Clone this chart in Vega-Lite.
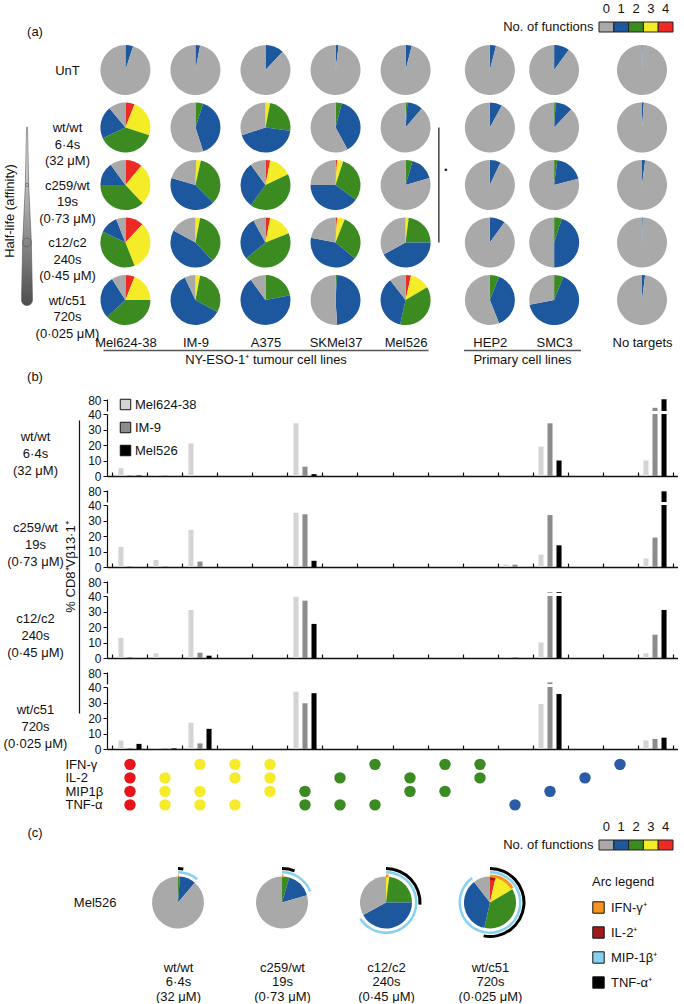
{
  "$schema": "https://vega.github.io/schema/vega-lite/v6.json",
  "padding": {"top": 2, "left": 0, "right": 0, "bottom": 0},
  "background": "white",
  "config": {
    "font": "Liberation Sans",
    "view": {"stroke": null},
    "axis": {"labelColor": "#111", "titleColor": "#111", "domainColor": "#111", "tickColor": "#111", "grid": false, "titleFontWeight": "normal", "labelFontSize": 12, "titleFontSize": 13},
    "legend": {"labelColor": "#111", "titleColor": "#111", "titleFontWeight": "normal"},
    "text": {"color": "#111"}
  },
  "datasets": {
    "legend5": [
      {"n": 0, "lab": "No. of functions"}, {"n": 1, "lab": "No. of functions"}, {"n": 2, "lab": "No. of functions"}, {"n": 3, "lab": "No. of functions"}, {"n": 4, "lab": "No. of functions"}
    ],
    "halflife": [
      {"tcr": "wt/wt", "halflife": 6.4}, {"tcr": "c259/wt", "halflife": 19}, {"tcr": "c12/c2", "halflife": 240}, {"tcr": "wt/c51", "halflife": 720}
    ],
    "bracket": [{"cell": "HEP2", "tcr": "wt/wt", "tcr_end": "c12/c2", "mid": "c259/wt", "sym": "•"}],
    "pies": [
      {"cell": "Mel624-38", "tcr": "UnT", "n": 1, "pct": 5}, {"cell": "Mel624-38", "tcr": "UnT", "n": 0, "pct": 95},
      {"cell": "Mel624-38", "tcr": "wt/wt", "n": 4, "pct": 6}, {"cell": "Mel624-38", "tcr": "wt/wt", "n": 3, "pct": 24}, {"cell": "Mel624-38", "tcr": "wt/wt", "n": 2, "pct": 38}, {"cell": "Mel624-38", "tcr": "wt/wt", "n": 1, "pct": 21}, {"cell": "Mel624-38", "tcr": "wt/wt", "n": 0, "pct": 11},
      {"cell": "Mel624-38", "tcr": "c259/wt", "n": 4, "pct": 11}, {"cell": "Mel624-38", "tcr": "c259/wt", "n": 3, "pct": 27}, {"cell": "Mel624-38", "tcr": "c259/wt", "n": 2, "pct": 37}, {"cell": "Mel624-38", "tcr": "c259/wt", "n": 1, "pct": 15}, {"cell": "Mel624-38", "tcr": "c259/wt", "n": 0, "pct": 10},
      {"cell": "Mel624-38", "tcr": "c12/c2", "n": 4, "pct": 12}, {"cell": "Mel624-38", "tcr": "c12/c2", "n": 3, "pct": 32}, {"cell": "Mel624-38", "tcr": "c12/c2", "n": 2, "pct": 38}, {"cell": "Mel624-38", "tcr": "c12/c2", "n": 1, "pct": 12}, {"cell": "Mel624-38", "tcr": "c12/c2", "n": 0, "pct": 6},
      {"cell": "Mel624-38", "tcr": "wt/c51", "n": 4, "pct": 6}, {"cell": "Mel624-38", "tcr": "wt/c51", "n": 3, "pct": 19}, {"cell": "Mel624-38", "tcr": "wt/c51", "n": 2, "pct": 38}, {"cell": "Mel624-38", "tcr": "wt/c51", "n": 1, "pct": 28}, {"cell": "Mel624-38", "tcr": "wt/c51", "n": 0, "pct": 9},
      {"cell": "IM-9", "tcr": "UnT", "n": 1, "pct": 3}, {"cell": "IM-9", "tcr": "UnT", "n": 0, "pct": 97},
      {"cell": "IM-9", "tcr": "wt/wt", "n": 2, "pct": 5}, {"cell": "IM-9", "tcr": "wt/wt", "n": 1, "pct": 40}, {"cell": "IM-9", "tcr": "wt/wt", "n": 0, "pct": 55},
      {"cell": "IM-9", "tcr": "c259/wt", "n": 4, "pct": 0.5}, {"cell": "IM-9", "tcr": "c259/wt", "n": 3, "pct": 3}, {"cell": "IM-9", "tcr": "c259/wt", "n": 2, "pct": 34}, {"cell": "IM-9", "tcr": "c259/wt", "n": 1, "pct": 42}, {"cell": "IM-9", "tcr": "c259/wt", "n": 0, "pct": 20.5},
      {"cell": "IM-9", "tcr": "c12/c2", "n": 3, "pct": 3}, {"cell": "IM-9", "tcr": "c12/c2", "n": 2, "pct": 35}, {"cell": "IM-9", "tcr": "c12/c2", "n": 1, "pct": 45}, {"cell": "IM-9", "tcr": "c12/c2", "n": 0, "pct": 17},
      {"cell": "IM-9", "tcr": "wt/c51", "n": 3, "pct": 3}, {"cell": "IM-9", "tcr": "wt/c51", "n": 2, "pct": 30}, {"cell": "IM-9", "tcr": "wt/c51", "n": 1, "pct": 60}, {"cell": "IM-9", "tcr": "wt/c51", "n": 0, "pct": 7},
      {"cell": "A375", "tcr": "UnT", "n": 1, "pct": 12}, {"cell": "A375", "tcr": "UnT", "n": 0, "pct": 88},
      {"cell": "A375", "tcr": "wt/wt", "n": 3, "pct": 3}, {"cell": "A375", "tcr": "wt/wt", "n": 2, "pct": 24}, {"cell": "A375", "tcr": "wt/wt", "n": 1, "pct": 43}, {"cell": "A375", "tcr": "wt/wt", "n": 0, "pct": 30},
      {"cell": "A375", "tcr": "c259/wt", "n": 4, "pct": 3}, {"cell": "A375", "tcr": "c259/wt", "n": 3, "pct": 15}, {"cell": "A375", "tcr": "c259/wt", "n": 2, "pct": 42}, {"cell": "A375", "tcr": "c259/wt", "n": 1, "pct": 30}, {"cell": "A375", "tcr": "c259/wt", "n": 0, "pct": 10},
      {"cell": "A375", "tcr": "c12/c2", "n": 4, "pct": 3}, {"cell": "A375", "tcr": "c12/c2", "n": 3, "pct": 16}, {"cell": "A375", "tcr": "c12/c2", "n": 2, "pct": 45}, {"cell": "A375", "tcr": "c12/c2", "n": 1, "pct": 28}, {"cell": "A375", "tcr": "c12/c2", "n": 0, "pct": 8},
      {"cell": "A375", "tcr": "wt/c51", "n": 2, "pct": 22}, {"cell": "A375", "tcr": "wt/c51", "n": 1, "pct": 68}, {"cell": "A375", "tcr": "wt/c51", "n": 0, "pct": 10},
      {"cell": "SKMel37", "tcr": "UnT", "n": 1, "pct": 2}, {"cell": "SKMel37", "tcr": "UnT", "n": 0, "pct": 98},
      {"cell": "SKMel37", "tcr": "wt/wt", "n": 2, "pct": 4}, {"cell": "SKMel37", "tcr": "wt/wt", "n": 1, "pct": 38}, {"cell": "SKMel37", "tcr": "wt/wt", "n": 0, "pct": 58},
      {"cell": "SKMel37", "tcr": "c259/wt", "n": 4, "pct": 1}, {"cell": "SKMel37", "tcr": "c259/wt", "n": 3, "pct": 4}, {"cell": "SKMel37", "tcr": "c259/wt", "n": 2, "pct": 30}, {"cell": "SKMel37", "tcr": "c259/wt", "n": 1, "pct": 40}, {"cell": "SKMel37", "tcr": "c259/wt", "n": 0, "pct": 25},
      {"cell": "SKMel37", "tcr": "c12/c2", "n": 4, "pct": 1}, {"cell": "SKMel37", "tcr": "c12/c2", "n": 3, "pct": 5}, {"cell": "SKMel37", "tcr": "c12/c2", "n": 2, "pct": 30}, {"cell": "SKMel37", "tcr": "c12/c2", "n": 1, "pct": 42}, {"cell": "SKMel37", "tcr": "c12/c2", "n": 0, "pct": 22},
      {"cell": "SKMel37", "tcr": "wt/c51", "n": 2, "pct": 1}, {"cell": "SKMel37", "tcr": "wt/c51", "n": 1, "pct": 48}, {"cell": "SKMel37", "tcr": "wt/c51", "n": 0, "pct": 51},
      {"cell": "Mel526", "tcr": "UnT", "n": 1, "pct": 4}, {"cell": "Mel526", "tcr": "UnT", "n": 0, "pct": 96},
      {"cell": "Mel526", "tcr": "wt/wt", "n": 2, "pct": 1.2}, {"cell": "Mel526", "tcr": "wt/wt", "n": 1, "pct": 10}, {"cell": "Mel526", "tcr": "wt/wt", "n": 0, "pct": 88.8},
      {"cell": "Mel526", "tcr": "c259/wt", "n": 2, "pct": 4.5}, {"cell": "Mel526", "tcr": "c259/wt", "n": 1, "pct": 16}, {"cell": "Mel526", "tcr": "c259/wt", "n": 0, "pct": 79.5},
      {"cell": "Mel526", "tcr": "c12/c2", "n": 3, "pct": 2}, {"cell": "Mel526", "tcr": "c12/c2", "n": 2, "pct": 23}, {"cell": "Mel526", "tcr": "c12/c2", "n": 1, "pct": 42}, {"cell": "Mel526", "tcr": "c12/c2", "n": 0, "pct": 33},
      {"cell": "Mel526", "tcr": "wt/c51", "n": 4, "pct": 3.5}, {"cell": "Mel526", "tcr": "wt/c51", "n": 3, "pct": 13}, {"cell": "Mel526", "tcr": "wt/c51", "n": 2, "pct": 37}, {"cell": "Mel526", "tcr": "wt/c51", "n": 1, "pct": 36}, {"cell": "Mel526", "tcr": "wt/c51", "n": 0, "pct": 10.5},
      {"cell": "HEP2", "tcr": "UnT", "n": 1, "pct": 4}, {"cell": "HEP2", "tcr": "UnT", "n": 0, "pct": 96},
      {"cell": "HEP2", "tcr": "wt/wt", "n": 1, "pct": 8}, {"cell": "HEP2", "tcr": "wt/wt", "n": 0, "pct": 92},
      {"cell": "HEP2", "tcr": "c259/wt", "n": 1, "pct": 7}, {"cell": "HEP2", "tcr": "c259/wt", "n": 0, "pct": 93},
      {"cell": "HEP2", "tcr": "c12/c2", "n": 1, "pct": 10}, {"cell": "HEP2", "tcr": "c12/c2", "n": 0, "pct": 90},
      {"cell": "HEP2", "tcr": "wt/c51", "n": 2, "pct": 6}, {"cell": "HEP2", "tcr": "wt/c51", "n": 1, "pct": 38}, {"cell": "HEP2", "tcr": "wt/c51", "n": 0, "pct": 56},
      {"cell": "SMC3", "tcr": "UnT", "n": 1, "pct": 10}, {"cell": "SMC3", "tcr": "UnT", "n": 0, "pct": 90},
      {"cell": "SMC3", "tcr": "wt/wt", "n": 2, "pct": 1}, {"cell": "SMC3", "tcr": "wt/wt", "n": 1, "pct": 11}, {"cell": "SMC3", "tcr": "wt/wt", "n": 0, "pct": 88},
      {"cell": "SMC3", "tcr": "c259/wt", "n": 2, "pct": 2}, {"cell": "SMC3", "tcr": "c259/wt", "n": 1, "pct": 19}, {"cell": "SMC3", "tcr": "c259/wt", "n": 0, "pct": 79},
      {"cell": "SMC3", "tcr": "c12/c2", "n": 2, "pct": 5}, {"cell": "SMC3", "tcr": "c12/c2", "n": 1, "pct": 45}, {"cell": "SMC3", "tcr": "c12/c2", "n": 0, "pct": 50},
      {"cell": "SMC3", "tcr": "wt/c51", "n": 2, "pct": 6}, {"cell": "SMC3", "tcr": "wt/c51", "n": 1, "pct": 66}, {"cell": "SMC3", "tcr": "wt/c51", "n": 0, "pct": 28},
      {"cell": "No targets", "tcr": "UnT", "n": 1, "pct": 0.4}, {"cell": "No targets", "tcr": "UnT", "n": 0, "pct": 99.6},
      {"cell": "No targets", "tcr": "wt/wt", "n": 1, "pct": 1.2}, {"cell": "No targets", "tcr": "wt/wt", "n": 0, "pct": 98.8},
      {"cell": "No targets", "tcr": "c259/wt", "n": 1, "pct": 2}, {"cell": "No targets", "tcr": "c259/wt", "n": 0, "pct": 98},
      {"cell": "No targets", "tcr": "c12/c2", "n": 1, "pct": 0.5}, {"cell": "No targets", "tcr": "c12/c2", "n": 0, "pct": 99.5},
      {"cell": "No targets", "tcr": "wt/c51", "n": 1, "pct": 2}, {"cell": "No targets", "tcr": "wt/c51", "n": 0, "pct": 98}
    ],
    "bars": [
      {"tcr": "wt/wt", "combo": "++++", "line": "Mel624-38", "v": 5}, {"tcr": "wt/wt", "combo": "++++", "line": "IM-9", "v": 0.4}, {"tcr": "wt/wt", "combo": "++++", "line": "Mel526", "v": 0.3},
      {"tcr": "wt/wt", "combo": "-+++", "line": "Mel624-38", "v": 0.4}, {"tcr": "wt/wt", "combo": "-+++", "line": "IM-9", "v": 0.3},
      {"tcr": "wt/wt", "combo": "+-++", "line": "Mel624-38", "v": 21},
      {"tcr": "wt/wt", "combo": "--++", "line": "Mel624-38", "v": 34}, {"tcr": "wt/wt", "combo": "--++", "line": "IM-9", "v": 6}, {"tcr": "wt/wt", "combo": "--++", "line": "Mel526", "v": 1.2},
      {"tcr": "wt/wt", "combo": "---+", "line": "Mel624-38", "v": 0.3},
      {"tcr": "wt/wt", "combo": "--+-", "line": "Mel624-38", "v": 19}, {"tcr": "wt/wt", "combo": "--+-", "line": "IM-9", "v": 34}, {"tcr": "wt/wt", "combo": "--+-", "line": "Mel526", "v": 10},
      {"tcr": "wt/wt", "combo": "----", "line": "Mel624-38", "v": 10}, {"tcr": "wt/wt", "combo": "----", "line": "IM-9", "v": 52}, {"tcr": "wt/wt", "combo": "----", "line": "Mel526", "v": 84},
      {"tcr": "c259/wt", "combo": "++++", "line": "Mel624-38", "v": 13}, {"tcr": "c259/wt", "combo": "++++", "line": "IM-9", "v": 0.4},
      {"tcr": "c259/wt", "combo": "-+++", "line": "Mel624-38", "v": 4.5}, {"tcr": "c259/wt", "combo": "-+++", "line": "IM-9", "v": 0.4},
      {"tcr": "c259/wt", "combo": "+-++", "line": "Mel624-38", "v": 24}, {"tcr": "c259/wt", "combo": "+-++", "line": "IM-9", "v": 3.5},
      {"tcr": "c259/wt", "combo": "--++", "line": "Mel624-38", "v": 35}, {"tcr": "c259/wt", "combo": "--++", "line": "IM-9", "v": 34}, {"tcr": "c259/wt", "combo": "--++", "line": "Mel526", "v": 4},
      {"tcr": "c259/wt", "combo": "---+", "line": "Mel624-38", "v": 1.5}, {"tcr": "c259/wt", "combo": "---+", "line": "IM-9", "v": 1.5},
      {"tcr": "c259/wt", "combo": "--+-", "line": "Mel624-38", "v": 8}, {"tcr": "c259/wt", "combo": "--+-", "line": "IM-9", "v": 33.5}, {"tcr": "c259/wt", "combo": "--+-", "line": "Mel526", "v": 14},
      {"tcr": "c259/wt", "combo": "----", "line": "Mel624-38", "v": 5.5}, {"tcr": "c259/wt", "combo": "----", "line": "IM-9", "v": 19}, {"tcr": "c259/wt", "combo": "----", "line": "Mel526", "v": 80},
      {"tcr": "c12/c2", "combo": "++++", "line": "Mel624-38", "v": 13}, {"tcr": "c12/c2", "combo": "++++", "line": "IM-9", "v": 0.5},
      {"tcr": "c12/c2", "combo": "-+++", "line": "Mel624-38", "v": 3},
      {"tcr": "c12/c2", "combo": "+-++", "line": "Mel624-38", "v": 31}, {"tcr": "c12/c2", "combo": "+-++", "line": "IM-9", "v": 3.4}, {"tcr": "c12/c2", "combo": "+-++", "line": "Mel526", "v": 1.5},
      {"tcr": "c12/c2", "combo": "--++", "line": "Mel624-38", "v": 39.5}, {"tcr": "c12/c2", "combo": "--++", "line": "IM-9", "v": 37}, {"tcr": "c12/c2", "combo": "--++", "line": "Mel526", "v": 22},
      {"tcr": "c12/c2", "combo": "---+", "line": "Mel624-38", "v": 0.5}, {"tcr": "c12/c2", "combo": "---+", "line": "IM-9", "v": 0.5},
      {"tcr": "c12/c2", "combo": "--+-", "line": "Mel624-38", "v": 10}, {"tcr": "c12/c2", "combo": "--+-", "line": "IM-9", "v": 43}, {"tcr": "c12/c2", "combo": "--+-", "line": "Mel526", "v": 43},
      {"tcr": "c12/c2", "combo": "----", "line": "Mel624-38", "v": 3}, {"tcr": "c12/c2", "combo": "----", "line": "IM-9", "v": 15}, {"tcr": "c12/c2", "combo": "----", "line": "Mel526", "v": 31},
      {"tcr": "wt/c51", "combo": "++++", "line": "Mel624-38", "v": 5.5}, {"tcr": "wt/c51", "combo": "++++", "line": "IM-9", "v": 0.5}, {"tcr": "wt/c51", "combo": "++++", "line": "Mel526", "v": 3.3},
      {"tcr": "wt/c51", "combo": "-+++", "line": "Mel624-38", "v": 0.3}, {"tcr": "wt/c51", "combo": "-+++", "line": "IM-9", "v": 0.3}, {"tcr": "wt/c51", "combo": "-+++", "line": "Mel526", "v": 0.4},
      {"tcr": "wt/c51", "combo": "+-++", "line": "Mel624-38", "v": 17}, {"tcr": "wt/c51", "combo": "+-++", "line": "IM-9", "v": 3.6}, {"tcr": "wt/c51", "combo": "+-++", "line": "Mel526", "v": 13},
      {"tcr": "wt/c51", "combo": "--++", "line": "Mel624-38", "v": 37}, {"tcr": "wt/c51", "combo": "--++", "line": "IM-9", "v": 29.5}, {"tcr": "wt/c51", "combo": "--++", "line": "Mel526", "v": 36},
      {"tcr": "wt/c51", "combo": "--+-", "line": "Mel624-38", "v": 29}, {"tcr": "wt/c51", "combo": "--+-", "line": "IM-9", "v": 46}, {"tcr": "wt/c51", "combo": "--+-", "line": "Mel526", "v": 35.5},
      {"tcr": "wt/c51", "combo": "----", "line": "Mel624-38", "v": 5.5}, {"tcr": "wt/c51", "combo": "----", "line": "IM-9", "v": 6.5}, {"tcr": "wt/c51", "combo": "----", "line": "Mel526", "v": 7.3}
    ],
    "dots": [
      {"combo": "++++", "cyto": "IFN-γ", "n": 4}, {"combo": "++++", "cyto": "IL-2", "n": 4}, {"combo": "++++", "cyto": "MIP1β", "n": 4}, {"combo": "++++", "cyto": "TNF-α", "n": 4},
      {"combo": "-+++", "cyto": "IL-2", "n": 3}, {"combo": "-+++", "cyto": "MIP1β", "n": 3}, {"combo": "-+++", "cyto": "TNF-α", "n": 3},
      {"combo": "+-++", "cyto": "IFN-γ", "n": 3}, {"combo": "+-++", "cyto": "MIP1β", "n": 3}, {"combo": "+-++", "cyto": "TNF-α", "n": 3},
      {"combo": "++-+", "cyto": "IFN-γ", "n": 3}, {"combo": "++-+", "cyto": "IL-2", "n": 3}, {"combo": "++-+", "cyto": "TNF-α", "n": 3},
      {"combo": "+++-", "cyto": "IFN-γ", "n": 3}, {"combo": "+++-", "cyto": "IL-2", "n": 3}, {"combo": "+++-", "cyto": "MIP1β", "n": 3},
      {"combo": "--++", "cyto": "MIP1β", "n": 2}, {"combo": "--++", "cyto": "TNF-α", "n": 2},
      {"combo": "-+-+", "cyto": "IL-2", "n": 2}, {"combo": "-+-+", "cyto": "TNF-α", "n": 2},
      {"combo": "+--+", "cyto": "IFN-γ", "n": 2}, {"combo": "+--+", "cyto": "TNF-α", "n": 2},
      {"combo": "-++-", "cyto": "IL-2", "n": 2}, {"combo": "-++-", "cyto": "MIP1β", "n": 2},
      {"combo": "+-+-", "cyto": "IFN-γ", "n": 2}, {"combo": "+-+-", "cyto": "MIP1β", "n": 2},
      {"combo": "++--", "cyto": "IFN-γ", "n": 2}, {"combo": "++--", "cyto": "IL-2", "n": 2},
      {"combo": "---+", "cyto": "TNF-α", "n": 1}, {"combo": "--+-", "cyto": "MIP1β", "n": 1}, {"combo": "-+--", "cyto": "IL-2", "n": 1}, {"combo": "+---", "cyto": "IFN-γ", "n": 1}
    ],
    "arcs": [
      {"tcr": "wt/wt", "cell": "Mel526", "cyto": "MIP-1β⁺", "frac": 0.11}, {"tcr": "wt/wt", "cell": "Mel526", "cyto": "TNF-α⁺", "frac": 0.025}, {"tcr": "wt/wt", "cell": "Mel526", "cyto": "IFN-γ⁺", "frac": 0.005},
      {"tcr": "c259/wt", "cell": "Mel526", "cyto": "MIP-1β⁺", "frac": 0.19}, {"tcr": "c259/wt", "cell": "Mel526", "cyto": "TNF-α⁺", "frac": 0.06}, {"tcr": "c259/wt", "cell": "Mel526", "cyto": "IFN-γ⁺", "frac": 0.008},
      {"tcr": "c12/c2", "cell": "Mel526", "cyto": "MIP-1β⁺", "frac": 0.66}, {"tcr": "c12/c2", "cell": "Mel526", "cyto": "TNF-α⁺", "frac": 0.26}, {"tcr": "c12/c2", "cell": "Mel526", "cyto": "IFN-γ⁺", "frac": 0.015},
      {"tcr": "wt/c51", "cell": "Mel526", "cyto": "MIP-1β⁺", "frac": 0.9}, {"tcr": "wt/c51", "cell": "Mel526", "cyto": "TNF-α⁺", "frac": 0.53}, {"tcr": "wt/c51", "cell": "Mel526", "cyto": "IFN-γ⁺", "frac": 0.16}, {"tcr": "wt/c51", "cell": "Mel526", "cyto": "IL-2⁺", "frac": 0.036}
    ]
  },
  "spacing": 19.25,
  "bounds": "flush",
  "resolve": {"scale": {"color": "independent", "fill": "independent"}, "legend": {"color": "independent", "fill": "independent"}},
  "vconcat": [
    {
      "spacing": 529, "bounds": "flush",
      "resolve": {"scale": {"color": "independent", "fill": "independent"}, "legend": {"color": "independent", "fill": "independent"}},
      "hconcat": [
        {"width": 70, "height": 10, "data": {"values": [{"t": "(a)"}]}, "mark": {"type": "text", "fontSize": 13, "yOffset": 5}, "encoding": {"text": {"field": "t", "type": "nominal"}}},
        {"width": 74, "height": 10, "data": {"name": "legend5"},
         "mark": {"type": "rect", "stroke": "#222", "strokeWidth": 1},
         "encoding": {
           "x": {"field": "n", "type": "ordinal", "scale": {"type": "band", "paddingInner": 0, "paddingOuter": 0}, "axis": {"orient": "top", "title": null, "domain": false, "ticks": false, "tickSize": 0, "labelAngle": 0, "labelPadding": 7, "labelFontSize": 13}},
           "y": {"field": "lab", "type": "nominal", "scale": {"type": "band", "paddingInner": 0, "paddingOuter": 0}, "axis": {"title": null, "domain": false, "ticks": false, "tickSize": 0, "labelPadding": 6, "labelFontSize": 13}},
           "fill": {"field": "n", "type": "ordinal", "scale": {"domain": [0, 1, 2, 3, 4], "range": ["#a9a9a9", "#1d589f", "#3b8b21", "#f4ec26", "#ed2a23"]}, "legend": null}
         }}
      ]
    },
    {
      "spacing": 330.75, "bounds": "flush",
      "resolve": {"scale": {"color": "independent", "fill": "independent"}, "legend": {"color": "independent", "fill": "independent"}},
      "vconcat": [
        {
          "spacing": 69, "bounds": "flush",
          "resolve": {"scale": {"color": "independent", "fill": "independent"}, "legend": {"color": "independent", "fill": "independent"}},
          "hconcat": [
            {
              "width": 34, "height": 287.5,
              "layer": [
                {"data": {"name": "halflife"},
                 "mark": {"type": "trail", "filled": true, "fill": {"gradient": "linear", "x1": 0, "y1": 0, "x2": 0, "y2": 1, "stops": [{"offset": 0, "color": "#f2f2f2"}, {"offset": 1, "color": "#4d4d4d"}]}, "stroke": "#555", "strokeWidth": 0.6, "xOffset": 10},
                 "encoding": {
                   "x": {"datum": 0, "type": "quantitative", "scale": {"domain": [-1, 1]}, "axis": null},
                   "y": {"field": "tcr", "type": "nominal", "scale": {"type": "point", "domain": ["UnT", "wt/wt", "c259/wt", "c12/c2", "wt/c51"], "padding": 0.5}, "axis": null},
                   "size": {"field": "halflife", "type": "quantitative", "scale": {"type": "log", "domain": [6.4, 720], "range": [1, 11]}, "legend": null},
                   "order": {"field": "halflife", "type": "quantitative"}
                 }},
                {"data": {"values": [{"t": "Half-life (affinity)"}]},
                 "mark": {"type": "text", "angle": 270, "fontSize": 13, "xOffset": -7, "yOffset": 26},
                 "encoding": {"x": {"datum": 0, "type": "quantitative"}, "text": {"field": "t", "type": "nominal"}}}
              ]
            },
            {
              "spacing": 35.5, "bounds": "flush",
              "resolve": {"scale": {"color": "independent", "fill": "independent"}, "legend": {"color": "independent", "fill": "independent"}},
              "hconcat": [
                {
                  "width": 325, "height": 287.5,
                  "data": {"name": "pies"},
                  "transform": [
                    {"filter": {"field": "cell", "oneOf": ["Mel624-38", "IM-9", "A375", "SKMel37", "Mel526"]}},
                    {"stack": "pct", "groupby": ["cell", "tcr"], "sort": [{"field": "n", "order": "descending"}], "offset": "normalize", "as": ["t0", "t1"]}
                  ],
                  "mark": {"type": "arc", "radius": 25},
                  "encoding": {
                    "x": {"field": "cell", "type": "nominal", "scale": {"type": "point", "domain": ["Mel624-38", "IM-9", "A375", "SKMel37", "Mel526"], "padding": 0.32},
                          "axis": {"orient": "bottom", "offset": 21.25, "title": "NY-ESO-1⁺ tumour cell lines", "titlePadding": 3, "titleFontSize": 13, "labelFontSize": 13, "labelAngle": 0, "labelBaseline": "middle", "labelPadding": -8, "labelOverlap": false, "ticks": false, "tickSize": 0, "domainColor": "#555", "domainWidth": 1.5}},
                    "y": {"field": "tcr", "type": "nominal", "scale": {"type": "point", "domain": ["UnT", "wt/wt", "c259/wt", "c12/c2", "wt/c51"], "padding": 0.5},
                          "axis": {"title": null, "domain": false, "ticks": false, "tickSize": 0, "labelAlign": "center", "labelBaseline": "middle", "labelPadding": 36, "labelFontSize": 13, "labelLineHeight": 16.5, "labelOverlap": false,
                                   "labelExpr": "datum.value == 'wt/wt' ? ['wt/wt', '6·4s', '(32 μM)'] : datum.value == 'c259/wt' ? ['c259/wt', '19s', '(0·73 μM)'] : datum.value == 'c12/c2' ? ['c12/c2', '240s', '(0·45 μM)'] : datum.value == 'wt/c51' ? ['wt/c51', '720s', '(0·025 μM)'] : datum.value"}},
                    "theta": {"field": "t0", "type": "quantitative", "scale": {"domain": [0, 1], "range": [0, 6.283185307]}},
                    "theta2": {"field": "t1"},
                    "fill": {"field": "n", "type": "ordinal", "scale": {"domain": [0, 1, 2, 3, 4], "range": ["#a9a9a9", "#1d589f", "#3b8b21", "#f4ec26", "#ed2a23"]}, "legend": null}
                  }
                },
                {
                  "spacing": 31.5, "bounds": "flush",
                  "resolve": {"scale": {"color": "independent", "fill": "independent"}, "legend": {"color": "independent", "fill": "independent"}},
                  "hconcat": [
                    {
                      "width": 117, "height": 287.5,
                      "layer": [
                        {
                          "data": {"name": "pies"},
                          "transform": [
                            {"filter": {"field": "cell", "oneOf": ["HEP2", "SMC3"]}},
                            {"stack": "pct", "groupby": ["cell", "tcr"], "sort": [{"field": "n", "order": "descending"}], "offset": "normalize", "as": ["t0", "t1"]}
                          ],
                          "mark": {"type": "arc", "radius": 25},
                          "encoding": {
                            "x": {"field": "cell", "type": "nominal", "scale": {"type": "point", "domain": ["HEP2", "SMC3"], "padding": 0.41},
                                  "axis": {"orient": "bottom", "offset": 21.25, "title": "Primary cell lines", "titlePadding": 3, "titleFontSize": 13, "labelFontSize": 13, "labelAngle": 0, "labelBaseline": "middle", "labelPadding": -8, "labelOverlap": false, "ticks": false, "tickSize": 0, "domainColor": "#555", "domainWidth": 1.5}},
                            "y": {"field": "tcr", "type": "nominal", "scale": {"type": "point", "domain": ["UnT", "wt/wt", "c259/wt", "c12/c2", "wt/c51"], "padding": 0.5}, "axis": null},
                            "theta": {"field": "t0", "type": "quantitative", "scale": {"domain": [0, 1], "range": [0, 6.283185307]}},
                            "theta2": {"field": "t1"},
                            "fill": {"field": "n", "type": "ordinal", "scale": {"domain": [0, 1, 2, 3, 4], "range": ["#a9a9a9", "#1d589f", "#3b8b21", "#f4ec26", "#ed2a23"]}, "legend": null}
                          }
                        },
                        {
                          "data": {"name": "bracket"},
                          "mark": {"type": "rule", "color": "#444", "strokeWidth": 1.5, "xOffset": -51},
                          "encoding": {
                            "x": {"field": "cell", "type": "nominal"},
                            "y": {"field": "tcr", "type": "nominal", "axis": null},
                            "y2": {"field": "tcr_end"}
                          }
                        },
                        {
                          "data": {"name": "bracket"},
                          "mark": {"type": "text", "fontSize": 9, "xOffset": -44, "yOffset": -15},
                          "encoding": {
                            "x": {"field": "cell", "type": "nominal"},
                            "y": {"field": "mid", "type": "nominal", "axis": null},
                            "text": {"field": "sym", "type": "nominal"}
                          }
                        }
                      ]
                    },
                    {
                      "width": 60, "height": 287.5,
                      "data": {"name": "pies"},
                      "transform": [
                        {"filter": {"field": "cell", "equal": "No targets"}},
                        {"stack": "pct", "groupby": ["cell", "tcr"], "sort": [{"field": "n", "order": "descending"}], "offset": "normalize", "as": ["t0", "t1"]}
                      ],
                      "mark": {"type": "arc", "radius": 25},
                      "encoding": {
                        "x": {"field": "cell", "type": "nominal", "scale": {"type": "point", "domain": ["No targets"], "padding": 0.5},
                              "axis": {"orient": "bottom", "offset": 21.25, "title": null, "labelFontSize": 13, "labelAngle": 0, "labelBaseline": "middle", "labelPadding": -8, "labelOverlap": false, "ticks": false, "tickSize": 0, "domain": false}},
                        "y": {"field": "tcr", "type": "nominal", "scale": {"type": "point", "domain": ["UnT", "wt/wt", "c259/wt", "c12/c2", "wt/c51"], "padding": 0.5}, "axis": null},
                        "theta": {"field": "t0", "type": "quantitative", "scale": {"domain": [0, 1], "range": [0, 6.283185307]}},
                        "theta2": {"field": "t1"},
                        "fill": {"field": "n", "type": "ordinal", "scale": {"domain": [0, 1, 2, 3, 4], "range": ["#a9a9a9", "#1d589f", "#3b8b21", "#f4ec26", "#ed2a23"]}, "legend": null}
                      }
                    }
                  ]
                }
              ]
            }
          ]
        },
        {
          "spacing": 17, "bounds": "flush",
          "resolve": {"scale": {"color": "independent", "fill": "independent"}, "legend": {"color": "independent", "fill": "independent"}},
          "vconcat": [
            {"width": 70, "height": 10, "data": {"values": [{"t": "(b)"}]}, "mark": {"type": "text", "fontSize": 13}, "encoding": {"text": {"field": "t", "type": "nominal"}}},
            {
              "spacing": 441, "bounds": "flush",
              "resolve": {"scale": {"color": "independent", "fill": "independent"}, "legend": {"color": "independent", "fill": "independent"}},
              "vconcat": [
                {
                  "spacing": 107, "bounds": "flush",
                  "resolve": {"scale": {"color": "independent", "fill": "independent"}, "legend": {"color": "independent", "fill": "independent"}},
                  "hconcat": [
                    {
                      "spacing": 0, "bounds": "flush",
                      "vconcat": [
                        {"width": 79, "height": 21, "data": {"values": [{"t": " "}]}, "mark": {"type": "text"}, "encoding": {"text": {"field": "t", "type": "nominal"}}},
                        {"width": 79, "height": 293, "data": {"values": [{"z": 0}]}, "mark": {"type": "point", "opacity": 0},
                         "encoding": {"y": {"field": "z", "type": "quantitative", "scale": {"domain": [0, 1]}, "axis": {"orient": "left", "offset": -79, "title": "% CD8⁺Vβ13·1⁺", "labels": false, "ticks": false, "tickSize": 0, "domain": true, "domainWidth": 1.2, "titlePadding": 2, "titleFontSize": 13}}}}
                      ]
                    },
                    {
                      "spacing": 91, "bounds": "flush",
                      "resolve": {"scale": {"color": "independent", "fill": "independent"}, "legend": {"color": "independent", "fill": "independent"}},
                      "vconcat": [
                        {
                          "spacing": 3, "bounds": "flush",
                          "resolve": {"scale": {"color": "independent", "fill": "independent"}, "legend": {"color": "independent", "fill": "independent"}},
                          "vconcat": [
                            {
                              "width": 571, "height": 12, "data": {"name": "bars"},
                              "transform": [{"filter": "datum.tcr == 'wt/wt' && datum.v > 40"}],
                              "mark": {"type": "bar", "clip": true},
                              "encoding": {
                                "x": {"field": "combo", "type": "nominal", "scale": {"type": "band", "domain": ["++++", "-+++", "+-++", "++-+", "+++-", "--++", "-+-+", "+--+", "-++-", "+-+-", "++--", "---+", "--+-", "-+--", "+---", "----"], "paddingInner": 0, "paddingOuter": 0.157}, "axis": null},
                                "xOffset": {"field": "line", "type": "nominal", "scale": {"domain": ["Mel624-38", "IM-9", "Mel526"], "paddingInner": 0.44, "paddingOuter": 0.66}},
                                "y": {"field": "v", "type": "quantitative", "scale": {"domain": [40, 85], "nice": false, "zero": false}, "axis": {"values": [80], "title": null, "tickSize": 4, "labelPadding": 2, "labelFontSize": 12, "domainWidth": 1.2}},
                                "color": {"field": "line", "type": "nominal", "scale": {"domain": ["Mel624-38", "IM-9", "Mel526"], "range": ["#d4d4d4", "#8c8c8c", "#000000"]},
                                          "legend": {"orient": "none", "legendX": 12, "legendY": -1, "title": null, "padding": 0, "symbolType": "square", "symbolSize": 110, "symbolStrokeColor": "#111", "symbolStrokeWidth": 1, "labelFontSize": 13, "rowPadding": 8, "labelOffset": 3}}
                              }
                            },
                            {
                              "width": 571, "height": 62, "data": {"name": "bars"},
                              "transform": [{"filter": {"field": "tcr", "equal": "wt/wt"}}],
                              "mark": {"type": "bar", "clip": true},
                              "encoding": {
                                "x": {"field": "combo", "type": "nominal", "scale": {"type": "band", "domain": ["++++", "-+++", "+-++", "++-+", "+++-", "--++", "-+-+", "+--+", "-++-", "+-+-", "++--", "---+", "--+-", "-+--", "+---", "----"], "paddingInner": 0, "paddingOuter": 0.157}, "axis": {"title": null, "labels": false, "domainWidth": 1.5, "tickBand": "extent", "tickSize": -4, "tickWidth": 1.2}},
                                "xOffset": {"field": "line", "type": "nominal", "scale": {"domain": ["Mel624-38", "IM-9", "Mel526"], "paddingInner": 0.44, "paddingOuter": 0.66}},
                                "y": {"field": "v", "type": "quantitative", "scale": {"domain": [0, 40], "nice": false}, "axis": {"values": [0, 10, 20, 30, 40], "tickSize": 4, "labelPadding": 2, "labelFontSize": 12, "domainWidth": 1.2, "title": ["wt/wt", "6·4s", "(32 μM)"], "titleAngle": 0, "titleAlign": "center", "titleBaseline": "middle", "titleX": -72, "titleY": 22, "titleFontSize": 13, "titleLineHeight": 17}},
                                "color": {"field": "line", "type": "nominal", "scale": {"domain": ["Mel624-38", "IM-9", "Mel526"], "range": ["#d4d4d4", "#8c8c8c", "#000000"]}, "legend": null}
                              }
                            }
                          ]
                        },
                        {
                          "spacing": 91, "bounds": "flush",
                          "resolve": {"scale": {"color": "independent", "fill": "independent"}, "legend": {"color": "independent", "fill": "independent"}},
                          "vconcat": [
                            {
                              "spacing": 3, "bounds": "flush",
                              "resolve": {"scale": {"color": "independent", "fill": "independent"}, "legend": {"color": "independent", "fill": "independent"}},
                              "vconcat": [
                                {
                                  "width": 571, "height": 12, "data": {"name": "bars"},
                                  "transform": [{"filter": "datum.tcr == 'c259/wt' && datum.v > 40"}],
                                  "mark": {"type": "bar", "clip": true},
                                  "encoding": {
                                    "x": {"field": "combo", "type": "nominal", "scale": {"type": "band", "domain": ["++++", "-+++", "+-++", "++-+", "+++-", "--++", "-+-+", "+--+", "-++-", "+-+-", "++--", "---+", "--+-", "-+--", "+---", "----"], "paddingInner": 0, "paddingOuter": 0.157}, "axis": null},
                                    "xOffset": {"field": "line", "type": "nominal", "scale": {"domain": ["Mel624-38", "IM-9", "Mel526"], "paddingInner": 0.44, "paddingOuter": 0.66}},
                                    "y": {"field": "v", "type": "quantitative", "scale": {"domain": [40, 85], "nice": false, "zero": false}, "axis": {"values": [80], "title": null, "tickSize": 4, "labelPadding": 2, "labelFontSize": 12, "domainWidth": 1.2}},
                                    "color": {"field": "line", "type": "nominal", "scale": {"domain": ["Mel624-38", "IM-9", "Mel526"], "range": ["#d4d4d4", "#8c8c8c", "#000000"]}, "legend": null}
                                  }
                                },
                                {
                                  "width": 571, "height": 62, "data": {"name": "bars"},
                                  "transform": [{"filter": {"field": "tcr", "equal": "c259/wt"}}],
                                  "mark": {"type": "bar", "clip": true},
                                  "encoding": {
                                    "x": {"field": "combo", "type": "nominal", "scale": {"type": "band", "domain": ["++++", "-+++", "+-++", "++-+", "+++-", "--++", "-+-+", "+--+", "-++-", "+-+-", "++--", "---+", "--+-", "-+--", "+---", "----"], "paddingInner": 0, "paddingOuter": 0.157}, "axis": {"title": null, "labels": false, "domainWidth": 1.5, "tickBand": "extent", "tickSize": -4, "tickWidth": 1.2}},
                                    "xOffset": {"field": "line", "type": "nominal", "scale": {"domain": ["Mel624-38", "IM-9", "Mel526"], "paddingInner": 0.44, "paddingOuter": 0.66}},
                                    "y": {"field": "v", "type": "quantitative", "scale": {"domain": [0, 40], "nice": false}, "axis": {"values": [0, 10, 20, 30, 40], "tickSize": 4, "labelPadding": 2, "labelFontSize": 12, "domainWidth": 1.2, "title": ["c259/wt", "19s", "(0·73 μM)"], "titleAngle": 0, "titleAlign": "center", "titleBaseline": "middle", "titleX": -72, "titleY": 22, "titleFontSize": 13, "titleLineHeight": 17}},
                                    "color": {"field": "line", "type": "nominal", "scale": {"domain": ["Mel624-38", "IM-9", "Mel526"], "range": ["#d4d4d4", "#8c8c8c", "#000000"]}, "legend": null}
                                  }
                                }
                              ]
                            },
                            {
                              "spacing": 91, "bounds": "flush",
                              "resolve": {"scale": {"color": "independent", "fill": "independent"}, "legend": {"color": "independent", "fill": "independent"}},
                              "vconcat": [
                                {
                                  "spacing": 3, "bounds": "flush",
                                  "resolve": {"scale": {"color": "independent", "fill": "independent"}, "legend": {"color": "independent", "fill": "independent"}},
                                  "vconcat": [
                                    {
                                      "width": 571, "height": 12, "data": {"name": "bars"},
                                      "transform": [{"filter": "datum.tcr == 'c12/c2' && datum.v > 40"}],
                                      "mark": {"type": "bar", "clip": true},
                                      "encoding": {
                                        "x": {"field": "combo", "type": "nominal", "scale": {"type": "band", "domain": ["++++", "-+++", "+-++", "++-+", "+++-", "--++", "-+-+", "+--+", "-++-", "+-+-", "++--", "---+", "--+-", "-+--", "+---", "----"], "paddingInner": 0, "paddingOuter": 0.157}, "axis": null},
                                        "xOffset": {"field": "line", "type": "nominal", "scale": {"domain": ["Mel624-38", "IM-9", "Mel526"], "paddingInner": 0.44, "paddingOuter": 0.66}},
                                        "y": {"field": "v", "type": "quantitative", "scale": {"domain": [40, 85], "nice": false, "zero": false}, "axis": {"values": [80], "title": null, "tickSize": 4, "labelPadding": 2, "labelFontSize": 12, "domainWidth": 1.2}},
                                        "color": {"field": "line", "type": "nominal", "scale": {"domain": ["Mel624-38", "IM-9", "Mel526"], "range": ["#d4d4d4", "#8c8c8c", "#000000"]}, "legend": null}
                                      }
                                    },
                                    {
                                      "width": 571, "height": 62, "data": {"name": "bars"},
                                      "transform": [{"filter": {"field": "tcr", "equal": "c12/c2"}}],
                                      "mark": {"type": "bar", "clip": true},
                                      "encoding": {
                                        "x": {"field": "combo", "type": "nominal", "scale": {"type": "band", "domain": ["++++", "-+++", "+-++", "++-+", "+++-", "--++", "-+-+", "+--+", "-++-", "+-+-", "++--", "---+", "--+-", "-+--", "+---", "----"], "paddingInner": 0, "paddingOuter": 0.157}, "axis": {"title": null, "labels": false, "domainWidth": 1.5, "tickBand": "extent", "tickSize": -4, "tickWidth": 1.2}},
                                        "xOffset": {"field": "line", "type": "nominal", "scale": {"domain": ["Mel624-38", "IM-9", "Mel526"], "paddingInner": 0.44, "paddingOuter": 0.66}},
                                        "y": {"field": "v", "type": "quantitative", "scale": {"domain": [0, 40], "nice": false}, "axis": {"values": [0, 10, 20, 30, 40], "tickSize": 4, "labelPadding": 2, "labelFontSize": 12, "domainWidth": 1.2, "title": ["c12/c2", "240s", "(0·45 μM)"], "titleAngle": 0, "titleAlign": "center", "titleBaseline": "middle", "titleX": -72, "titleY": 22, "titleFontSize": 13, "titleLineHeight": 17}},
                                        "color": {"field": "line", "type": "nominal", "scale": {"domain": ["Mel624-38", "IM-9", "Mel526"], "range": ["#d4d4d4", "#8c8c8c", "#000000"]}, "legend": null}
                                      }
                                    }
                                  ]
                                },
                                {
                                  "spacing": 91, "bounds": "flush",
                                  "resolve": {"scale": {"color": "independent", "fill": "independent"}, "legend": {"color": "independent", "fill": "independent"}},
                                  "vconcat": [
                                    {
                                      "spacing": 3, "bounds": "flush",
                                      "resolve": {"scale": {"color": "independent", "fill": "independent"}, "legend": {"color": "independent", "fill": "independent"}},
                                      "vconcat": [
                                        {
                                          "width": 571, "height": 12, "data": {"name": "bars"},
                                          "transform": [{"filter": "datum.tcr == 'wt/c51' && datum.v > 40"}],
                                          "mark": {"type": "bar", "clip": true},
                                          "encoding": {
                                            "x": {"field": "combo", "type": "nominal", "scale": {"type": "band", "domain": ["++++", "-+++", "+-++", "++-+", "+++-", "--++", "-+-+", "+--+", "-++-", "+-+-", "++--", "---+", "--+-", "-+--", "+---", "----"], "paddingInner": 0, "paddingOuter": 0.157}, "axis": null},
                                            "xOffset": {"field": "line", "type": "nominal", "scale": {"domain": ["Mel624-38", "IM-9", "Mel526"], "paddingInner": 0.44, "paddingOuter": 0.66}},
                                            "y": {"field": "v", "type": "quantitative", "scale": {"domain": [40, 85], "nice": false, "zero": false}, "axis": {"values": [80], "title": null, "tickSize": 4, "labelPadding": 2, "labelFontSize": 12, "domainWidth": 1.2}},
                                            "color": {"field": "line", "type": "nominal", "scale": {"domain": ["Mel624-38", "IM-9", "Mel526"], "range": ["#d4d4d4", "#8c8c8c", "#000000"]}, "legend": null}
                                          }
                                        },
                                        {
                                          "width": 571, "height": 62, "data": {"name": "bars"},
                                          "transform": [{"filter": {"field": "tcr", "equal": "wt/c51"}}],
                                          "mark": {"type": "bar", "clip": true},
                                          "encoding": {
                                            "x": {"field": "combo", "type": "nominal", "scale": {"type": "band", "domain": ["++++", "-+++", "+-++", "++-+", "+++-", "--++", "-+-+", "+--+", "-++-", "+-+-", "++--", "---+", "--+-", "-+--", "+---", "----"], "paddingInner": 0, "paddingOuter": 0.157}, "axis": {"title": null, "labels": false, "domainWidth": 1.5, "tickBand": "extent", "tickSize": -4, "tickWidth": 1.2}},
                                            "xOffset": {"field": "line", "type": "nominal", "scale": {"domain": ["Mel624-38", "IM-9", "Mel526"], "paddingInner": 0.44, "paddingOuter": 0.66}},
                                            "y": {"field": "v", "type": "quantitative", "scale": {"domain": [0, 40], "nice": false}, "axis": {"values": [0, 10, 20, 30, 40], "tickSize": 4, "labelPadding": 2, "labelFontSize": 12, "domainWidth": 1.2, "title": ["wt/c51", "720s", "(0·025 μM)"], "titleAngle": 0, "titleAlign": "center", "titleBaseline": "middle", "titleX": -72, "titleY": 22, "titleFontSize": 13, "titleLineHeight": 17}},
                                            "color": {"field": "line", "type": "nominal", "scale": {"domain": ["Mel624-38", "IM-9", "Mel526"], "range": ["#d4d4d4", "#8c8c8c", "#000000"]}, "legend": null}
                                          }
                                        }
                                      ]
                                    },
                                    {
                                      "width": 571, "height": 43.2, "data": {"name": "dots"},
                                      "mark": {"type": "circle", "size": 130, "opacity": 1},
                                      "encoding": {
                                        "x": {"field": "combo", "type": "nominal", "scale": {"type": "band", "domain": ["++++", "-+++", "+-++", "++-+", "+++-", "--++", "-+-+", "+--+", "-++-", "+-+-", "++--", "---+", "--+-", "-+--", "+---", "----"], "paddingInner": 0, "paddingOuter": 0.157}, "axis": null},
                                        "y": {"field": "cyto", "type": "nominal", "scale": {"type": "point", "domain": ["IFN-γ", "IL-2", "MIP1β", "TNF-α"], "padding": 0.1}, "axis": {"title": null, "domain": false, "ticks": false, "tickSize": 0, "labelAlign": "left", "labelBaseline": "middle", "labelPadding": 42, "labelFontSize": 13}},
                                        "fill": {"field": "n", "type": "ordinal", "scale": {"domain": [1, 2, 3, 4], "range": ["#2a5ca8", "#3b8a22", "#f5eb2a", "#e8141b"]}, "legend": null}
                                      }
                                    }
                                  ]
                                }
                              ]
                            }
                          ]
                        }
                      ]
                    }
                  ]
                },
                {
                  "spacing": 25, "bounds": "flush",
                  "resolve": {"scale": {"color": "independent", "fill": "independent"}, "legend": {"color": "independent", "fill": "independent"}},
                  "vconcat": [
                    {
                      "spacing": 529, "bounds": "flush",
                      "resolve": {"scale": {"color": "independent", "fill": "independent"}, "legend": {"color": "independent", "fill": "independent"}},
                      "hconcat": [
                        {"width": 70, "height": 10, "data": {"values": [{"t": "(c)"}]}, "mark": {"type": "text", "fontSize": 13, "yOffset": -12}, "encoding": {"text": {"field": "t", "type": "nominal"}}},
                        {"width": 74, "height": 10, "data": {"name": "legend5"},
                         "mark": {"type": "rect", "stroke": "#222", "strokeWidth": 1},
                         "encoding": {
                           "x": {"field": "n", "type": "ordinal", "scale": {"type": "band", "paddingInner": 0, "paddingOuter": 0}, "axis": {"orient": "top", "title": null, "domain": false, "ticks": false, "tickSize": 0, "labelAngle": 0, "labelPadding": 7, "labelFontSize": 13}},
                           "y": {"field": "lab", "type": "nominal", "scale": {"type": "band", "paddingInner": 0, "paddingOuter": 0}, "axis": {"title": null, "domain": false, "ticks": false, "tickSize": 0, "labelPadding": 6, "labelFontSize": 13}},
                           "fill": {"field": "n", "type": "ordinal", "scale": {"domain": [0, 1, 2, 3, 4], "range": ["#a9a9a9", "#1d589f", "#3b8b21", "#f4ec26", "#ed2a23"]}, "legend": null}
                         }}
                      ]
                    },
                    {
                      "spacing": 26, "bounds": "flush",
                      "resolve": {"scale": {"color": "independent", "fill": "independent"}, "legend": {"color": "independent", "fill": "independent"}},
                      "hconcat": [
                        {"width": 100, "height": 75, "data": {"values": [{"t": " "}]}, "mark": {"type": "text"}, "encoding": {"text": {"field": "t", "type": "nominal"}}},
                        {
                          "width": 416, "height": 75,
                          "layer": [
                            {
                              "data": {"name": "pies"},
                              "transform": [
                                {"filter": "datum.cell == 'Mel526' && datum.tcr != 'UnT'"},
                                {"stack": "pct", "groupby": ["cell", "tcr"], "sort": [{"field": "n", "order": "descending"}], "offset": "normalize", "as": ["t0", "t1"]}
                              ],
                              "mark": {"type": "arc", "radius": 26},
                              "encoding": {
                                "x": {"field": "tcr", "type": "nominal", "scale": {"type": "point", "domain": ["wt/wt", "c259/wt", "c12/c2", "wt/c51"], "padding": 0.5},
                                      "axis": {"orient": "bottom", "title": null, "domain": false, "ticks": false, "tickSize": 0, "labelAngle": 0, "labelAlign": "center", "labelBaseline": "top", "labelPadding": 21, "labelFontSize": 13, "labelLineHeight": 14.5, "labelOverlap": false,
                                               "labelExpr": "datum.value == 'wt/wt' ? ['wt/wt', '6·4s', '(32 μM)'] : datum.value == 'c259/wt' ? ['c259/wt', '19s', '(0·73 μM)'] : datum.value == 'c12/c2' ? ['c12/c2', '240s', '(0·45 μM)'] : ['wt/c51', '720s', '(0·025 μM)']"}},
                                "y": {"field": "cell", "type": "nominal", "scale": {"type": "point", "domain": ["Mel526"], "padding": 0.5}, "axis": {"title": null, "domain": false, "ticks": false, "tickSize": 0, "labelPadding": 10, "labelFontSize": 13}},
                                "theta": {"field": "t0", "type": "quantitative", "scale": {"domain": [0, 1], "range": [0, 6.283185307]}},
                                "theta2": {"field": "t1"},
                                "fill": {"field": "n", "type": "ordinal", "scale": {"domain": [0, 1, 2, 3, 4], "range": ["#a9a9a9", "#1d589f", "#3b8b21", "#f4ec26", "#ed2a23"]}, "legend": null}
                              }
                            },
                            {
                              "data": {"name": "arcs"},
                              "transform": [{"filter": {"field": "cyto", "equal": "MIP-1β⁺"}}],
                              "mark": {"type": "arc", "radius": 31.5, "radius2": 29},
                              "encoding": {
                                "x": {"field": "tcr", "type": "nominal"},
                                "y": {"field": "cell", "type": "nominal"},
                                "theta": {"field": "frac", "type": "quantitative", "stack": null},
                                "color": {"field": "cyto", "type": "nominal", "scale": {"domain": ["IFN-γ⁺", "IL-2⁺", "MIP-1β⁺", "TNF-α⁺"], "range": ["#f7931e", "#9e1a1a", "#86d0f0", "#000000"]},
                                          "legend": {"title": "Arc legend", "orient": "right", "offset": 39, "padding": 11, "symbolType": "square", "symbolSize": 130, "symbolStrokeColor": "#111", "symbolStrokeWidth": 1, "labelFontSize": 13, "titleFontSize": 13, "titlePadding": 12, "rowPadding": 8, "labelOffset": 6}}
                              }
                            },
                            {
                              "data": {"name": "arcs"},
                              "transform": [{"filter": {"field": "cyto", "equal": "TNF-α⁺"}}],
                              "mark": {"type": "arc", "radius": 35.5, "radius2": 32.5},
                              "encoding": {
                                "x": {"field": "tcr", "type": "nominal"},
                                "y": {"field": "cell", "type": "nominal"},
                                "theta": {"field": "frac", "type": "quantitative", "stack": null},
                                "color": {"field": "cyto", "type": "nominal"}
                              }
                            },
                            {
                              "data": {"name": "arcs"},
                              "transform": [{"filter": {"field": "cyto", "equal": "IFN-γ⁺"}}],
                              "mark": {"type": "arc", "radius": 28, "radius2": 25},
                              "encoding": {
                                "x": {"field": "tcr", "type": "nominal"},
                                "y": {"field": "cell", "type": "nominal"},
                                "theta": {"field": "frac", "type": "quantitative", "stack": null},
                                "color": {"field": "cyto", "type": "nominal"}
                              }
                            },
                            {
                              "data": {"name": "arcs"},
                              "transform": [{"filter": {"field": "cyto", "equal": "IL-2⁺"}}],
                              "mark": {"type": "arc", "radius": 25, "radius2": 22.5},
                              "encoding": {
                                "x": {"field": "tcr", "type": "nominal"},
                                "y": {"field": "cell", "type": "nominal"},
                                "theta": {"field": "frac", "type": "quantitative", "stack": null},
                                "color": {"field": "cyto", "type": "nominal"}
                              }
                            }
                          ]
                        }
                      ]
                    }
                  ]
                }
              ]
            }
          ]
        }
      ]
    }
  ]
}
